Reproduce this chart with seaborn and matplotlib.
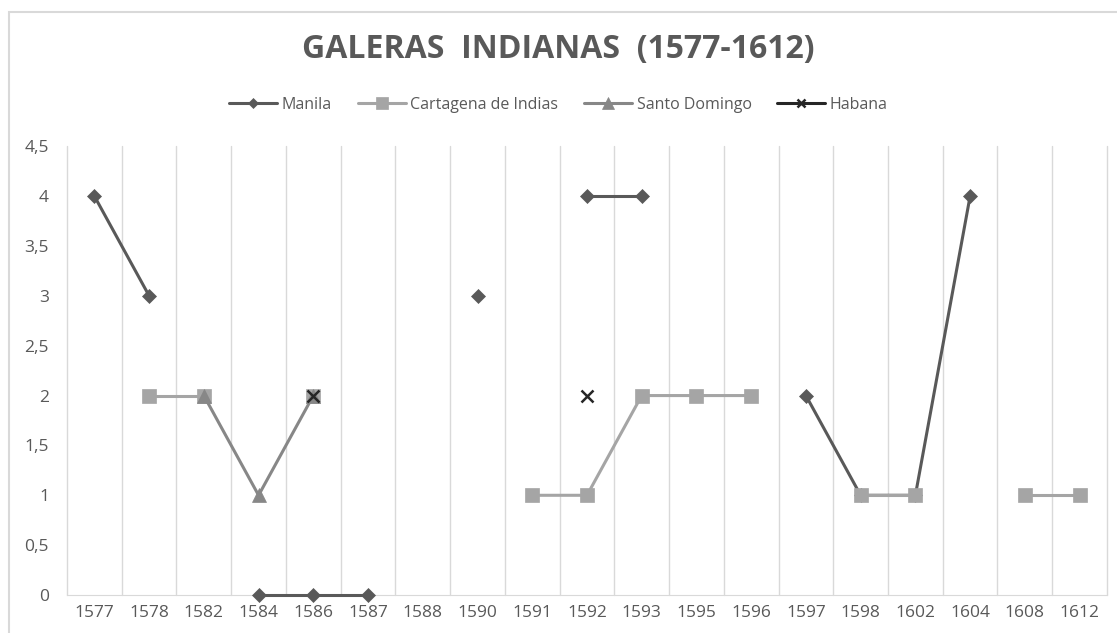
import matplotlib
matplotlib.use("Agg")
import matplotlib.pyplot as plt
from matplotlib.lines import Line2D
from matplotlib.patches import Rectangle
import seaborn as sns
import numpy as np
import pandas as pd

# categories (years) and series values, NaN = no data
years = ["1577", "1578", "1582", "1584", "1586", "1587", "1588", "1590", "1591", "1592",
         "1593", "1595", "1596", "1597", "1598", "1602", "1604", "1608", "1612"]
nan = np.nan
manila = [4, 3, nan, 0, 0, 0, nan, 3, nan, 4, 4, nan, nan, 2, 1, 1, 4, nan, nan]
cartagena = [nan, 2, 2, nan, 2, nan, nan, nan, 1, 1, 2, 2, 2, nan, 1, 1, nan, 1, 1]
santo_domingo = [nan, nan, 2, 1, 2, nan, nan, nan, nan, nan, nan, nan, nan, nan, nan, nan, nan, nan, nan]
habana = [nan, nan, nan, nan, 2, nan, nan, nan, nan, 2, nan, nan, nan, nan, nan, nan, nan, nan, nan]

series_names = ["Manila", "Cartagena de Indias", "Santo Domingo", "Habana"]
series_vals = [manila, cartagena, santo_domingo, habana]
colors = {"Manila": "#595959", "Cartagena de Indias": "#A5A5A5",
          "Santo Domingo": "#878787", "Habana": "#262626"}
markers = {"Manila": "D", "Cartagena de Indias": "s", "Santo Domingo": "^", "Habana": "x"}
msizes = {"Manila": 7, "Cartagena de Indias": 10, "Santo Domingo": 10, "Habana": 8}

# long table with a segment id so gaps stay as gaps
rows = []
for name, vals in zip(series_names, series_vals):
    seg = 0
    prev_nan = True
    for i, v in enumerate(vals):
        if np.isnan(v):
            prev_nan = True
            continue
        if prev_nan:
            seg += 1
        prev_nan = False
        rows.append({"series": name, "pos": i, "val": v, "seg": f"{name}-{seg}"})
df = pd.DataFrame(rows)

sns.set_style("white")
plt.rcParams["font.family"] = ["Open Sans", "DejaVu Sans"]

fig = plt.figure(figsize=(11.17, 6.33), dpi=100)
ax = fig.add_axes([0.060, 0.060, 0.931, 0.709])

for name in series_names:
    sub = df[df["series"] == name]
    for seg, g in sub.groupby("seg", sort=False):
        sns.lineplot(data=g, x="pos", y="val", ax=ax, color=colors[name],
                     marker=markers[name], markersize=msizes[name],
                     markeredgecolor=colors[name], markeredgewidth=1.8 if name == "Habana" else 0.5,
                     linewidth=2.2, estimator=None, legend=False, zorder=3)

ax.set_xlim(-0.5, len(years) - 0.5)
ax.set_ylim(0, 4.5)
ax.set_xticks(range(len(years)))
ax.set_xticklabels(years)
ax.set_yticks(np.arange(0, 4.51, 0.5))
ax.set_yticklabels([f"{t:g}".replace(".", ",") for t in np.arange(0, 4.51, 0.5)])
ax.set_xlabel("")
ax.set_ylabel("")
for b in np.arange(-0.5, len(years), 1.0):
    ax.axvline(b, color="#D9D9D9", linewidth=1, zorder=0)
for s in ["top", "right", "left"]:
    ax.spines[s].set_visible(False)
ax.spines["bottom"].set_color("#D9D9D9")
ax.tick_params(axis="both", length=0, labelsize=12.5, colors="#595959")
ax.tick_params(axis="x", pad=7)
ax.tick_params(axis="y", pad=13)
for line in ax.lines:
    line.set_clip_on(False)

fig.text(0.5, 0.922, "GALERAS  INDIANAS  (1577-1612)", ha="center", va="center",
         fontsize=23, fontweight="bold", color="#595959")

handles = [Line2D([0], [0], color=colors[n], marker=markers[n], markersize=msizes[n] * 0.8,
                  markeredgecolor=colors[n], markeredgewidth=1.8 if n == "Habana" else 0.5,
                  linewidth=2.2) for n in series_names]
leg = fig.legend(handles, series_names, loc="center", bbox_to_anchor=(0.5, 0.834), ncol=4,
                 frameon=False, fontsize=11.5, handlelength=3, columnspacing=1.6, handletextpad=0.3)
for t in leg.get_texts():
    t.set_color("#595959")

fig.patches.append(Rectangle((9 / 1117, -0.01), 1.02, 1 - 12 / 633 + 0.01, transform=fig.transFigure,
                             fill=False, edgecolor="#D9D9D9", linewidth=1.5))

fig.savefig("out.png", dpi=100, facecolor="white")
